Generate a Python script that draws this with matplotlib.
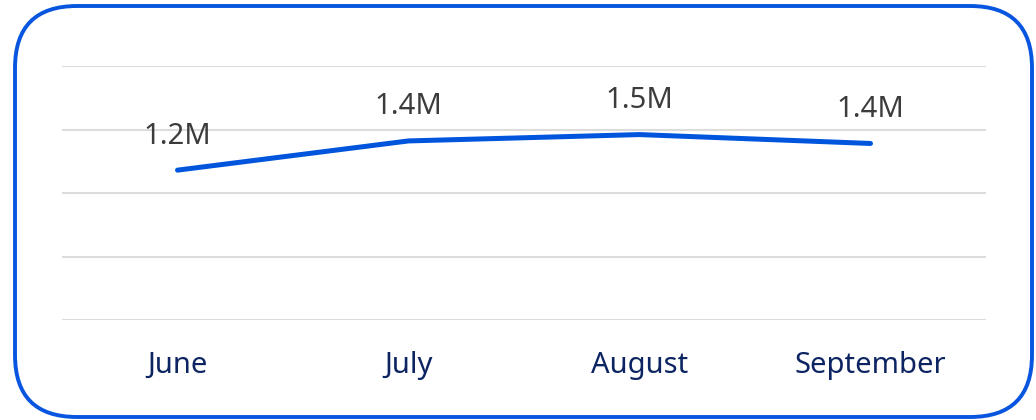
import matplotlib
matplotlib.use("Agg")
import matplotlib.pyplot as plt
from matplotlib.patches import FancyBboxPatch

months = ["June", "July", "August", "September"]
values = [1.18, 1.41, 1.46, 1.39]  # millions
labels = ["1.2M", "1.4M", "1.5M", "1.4M"]

plt.rcParams['font.family'] = ['Noto Sans', 'DejaVu Sans']

fig = plt.figure(figsize=(10.36, 4.2), dpi=100)

# rounded frame drawn in pixel units
bg = fig.add_axes([0, 0, 1, 1])
bg.set_xlim(0, 1036)
bg.set_ylim(420, 0)
bg.axis("off")
frame = FancyBboxPatch((15, 6), 1017, 411, boxstyle="round,pad=0,rounding_size=62",
                       facecolor="white", edgecolor="#0856e0", linewidth=2.8)
bg.add_patch(frame)

ax = fig.add_axes([62 / 1036, 100 / 420, 924 / 1036, 254 / 420])
ax.set_facecolor("none")
x = list(range(len(months)))
ax.plot(x, values, color="#0055dd", linewidth=3.6, solid_capstyle="round", zorder=3)
for xi, v, lab in zip(x, values, labels):
    ax.annotate(lab, (xi, v), xytext=(0, 14), textcoords="offset points",
                ha="center", va="bottom", fontsize=21, color="#3c3c3c")

ax.set_xlim(-0.5, 3.5)
ax.set_ylim(0, 2.0)
ax.set_yticks([0, 0.5, 1.0, 1.5, 2.0])
ax.set_yticklabels([])
ax.set_xticks(x)
ax.set_xticklabels(months, fontsize=21, color="#0c2461")
ax.tick_params(axis="both", length=0, pad=22)
ax.grid(axis="y", color="#dcdcdc", linewidth=1.5)
for s in ax.spines.values():
    s.set_visible(False)

fig.savefig("out.png", dpi=100)
